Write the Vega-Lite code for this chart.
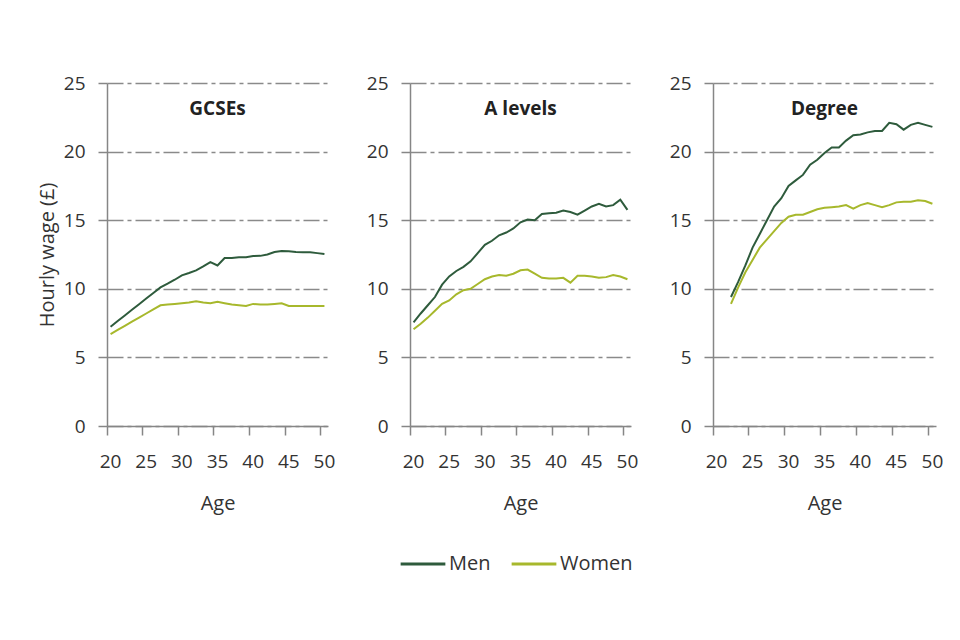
{
 "$schema": "https://vega.github.io/schema/vega-lite/v6.json",
 "background": "white",
 "padding": {"left": 37, "top": 74, "right": 0, "bottom": 0},
 "config": {
  "font": "Open Sans",
  "view": {"stroke": null},
  "axis": {"domainColor": "#868686", "domainWidth": 1.5, "tickColor": "#868686", "tickWidth": 1.5, "tickSize": 9, "labelFontSize": 19, "labelColor": "#333333", "titleFontSize": 20, "titleFontWeight": "normal", "titleColor": "#333333", "gridColor": "#8a8a8a", "gridDash": [16, 4, 4, 4], "gridWidth": 1.3},
  "axisX": {"grid": false, "labelPadding": 17, "titlePadding": 22, "labelAngle": 0},
  "axisY": {"grid": true, "labelPadding": 13, "titlePadding": 6},
  "legend": {"orient": "none", "legendX": 292, "legendY": 457, "direction": "horizontal", "title": null, "symbolType": "stroke", "symbolStrokeWidth": 3, "symbolSize": 2000, "labelFontSize": 20, "labelColor": "#333333", "labelOffset": 2, "columnPadding": 14},
  "title": {"fontSize": 19, "fontWeight": "bold", "color": "#222222", "offset": -45, "frame": "group", "anchor": "middle"}
 },
 "data": {"values": [
  {"q":"GCSEs","sex":"Men","age":20,"wage":7.24},{"q":"GCSEs","sex":"Men","age":21,"wage":7.65},{"q":"GCSEs","sex":"Men","age":22,"wage":8.06},{"q":"GCSEs","sex":"Men","age":23,"wage":8.47},{"q":"GCSEs","sex":"Men","age":24,"wage":8.88},{"q":"GCSEs","sex":"Men","age":25,"wage":9.29},{"q":"GCSEs","sex":"Men","age":26,"wage":9.7},{"q":"GCSEs","sex":"Men","age":27,"wage":10.1},{"q":"GCSEs","sex":"Men","age":28,"wage":10.37},{"q":"GCSEs","sex":"Men","age":29,"wage":10.66},{"q":"GCSEs","sex":"Men","age":30,"wage":10.98},{"q":"GCSEs","sex":"Men","age":31,"wage":11.15},{"q":"GCSEs","sex":"Men","age":32,"wage":11.34},{"q":"GCSEs","sex":"Men","age":33,"wage":11.63},{"q":"GCSEs","sex":"Men","age":34,"wage":11.95},{"q":"GCSEs","sex":"Men","age":35,"wage":11.7},{"q":"GCSEs","sex":"Men","age":36,"wage":12.24},{"q":"GCSEs","sex":"Men","age":37,"wage":12.24},{"q":"GCSEs","sex":"Men","age":38,"wage":12.3},{"q":"GCSEs","sex":"Men","age":39,"wage":12.3},{"q":"GCSEs","sex":"Men","age":40,"wage":12.39},{"q":"GCSEs","sex":"Men","age":41,"wage":12.4},{"q":"GCSEs","sex":"Men","age":42,"wage":12.5},{"q":"GCSEs","sex":"Men","age":43,"wage":12.68},{"q":"GCSEs","sex":"Men","age":44,"wage":12.75},{"q":"GCSEs","sex":"Men","age":45,"wage":12.73},{"q":"GCSEs","sex":"Men","age":46,"wage":12.68},{"q":"GCSEs","sex":"Men","age":47,"wage":12.66},{"q":"GCSEs","sex":"Men","age":48,"wage":12.66},{"q":"GCSEs","sex":"Men","age":49,"wage":12.6},{"q":"GCSEs","sex":"Men","age":50,"wage":12.54},
  {"q":"GCSEs","sex":"Women","age":20,"wage":6.7},{"q":"GCSEs","sex":"Women","age":21,"wage":7.0},{"q":"GCSEs","sex":"Women","age":22,"wage":7.3},{"q":"GCSEs","sex":"Women","age":23,"wage":7.6},{"q":"GCSEs","sex":"Women","age":24,"wage":7.9},{"q":"GCSEs","sex":"Women","age":25,"wage":8.2},{"q":"GCSEs","sex":"Women","age":26,"wage":8.5},{"q":"GCSEs","sex":"Women","age":27,"wage":8.8},{"q":"GCSEs","sex":"Women","age":28,"wage":8.85},{"q":"GCSEs","sex":"Women","age":29,"wage":8.9},{"q":"GCSEs","sex":"Women","age":30,"wage":8.95},{"q":"GCSEs","sex":"Women","age":31,"wage":9.0},{"q":"GCSEs","sex":"Women","age":32,"wage":9.1},{"q":"GCSEs","sex":"Women","age":33,"wage":9.0},{"q":"GCSEs","sex":"Women","age":34,"wage":8.95},{"q":"GCSEs","sex":"Women","age":35,"wage":9.05},{"q":"GCSEs","sex":"Women","age":36,"wage":8.95},{"q":"GCSEs","sex":"Women","age":37,"wage":8.85},{"q":"GCSEs","sex":"Women","age":38,"wage":8.8},{"q":"GCSEs","sex":"Women","age":39,"wage":8.75},{"q":"GCSEs","sex":"Women","age":40,"wage":8.9},{"q":"GCSEs","sex":"Women","age":41,"wage":8.85},{"q":"GCSEs","sex":"Women","age":42,"wage":8.85},{"q":"GCSEs","sex":"Women","age":43,"wage":8.9},{"q":"GCSEs","sex":"Women","age":44,"wage":8.95},{"q":"GCSEs","sex":"Women","age":45,"wage":8.75},{"q":"GCSEs","sex":"Women","age":46,"wage":8.75},{"q":"GCSEs","sex":"Women","age":47,"wage":8.75},{"q":"GCSEs","sex":"Women","age":48,"wage":8.75},{"q":"GCSEs","sex":"Women","age":49,"wage":8.75},{"q":"GCSEs","sex":"Women","age":50,"wage":8.75},
  {"q":"A levels","sex":"Men","age":20,"wage":7.55},{"q":"A levels","sex":"Men","age":21,"wage":8.2},{"q":"A levels","sex":"Men","age":22,"wage":8.8},{"q":"A levels","sex":"Men","age":23,"wage":9.4},{"q":"A levels","sex":"Men","age":24,"wage":10.3},{"q":"A levels","sex":"Men","age":25,"wage":10.9},{"q":"A levels","sex":"Men","age":26,"wage":11.3},{"q":"A levels","sex":"Men","age":27,"wage":11.6},{"q":"A levels","sex":"Men","age":28,"wage":12.0},{"q":"A levels","sex":"Men","age":29,"wage":12.6},{"q":"A levels","sex":"Men","age":30,"wage":13.2},{"q":"A levels","sex":"Men","age":31,"wage":13.5},{"q":"A levels","sex":"Men","age":32,"wage":13.9},{"q":"A levels","sex":"Men","age":33,"wage":14.1},{"q":"A levels","sex":"Men","age":34,"wage":14.4},{"q":"A levels","sex":"Men","age":35,"wage":14.85},{"q":"A levels","sex":"Men","age":36,"wage":15.05},{"q":"A levels","sex":"Men","age":37,"wage":15.0},{"q":"A levels","sex":"Men","age":38,"wage":15.45},{"q":"A levels","sex":"Men","age":39,"wage":15.5},{"q":"A levels","sex":"Men","age":40,"wage":15.55},{"q":"A levels","sex":"Men","age":41,"wage":15.7},{"q":"A levels","sex":"Men","age":42,"wage":15.6},{"q":"A levels","sex":"Men","age":43,"wage":15.4},{"q":"A levels","sex":"Men","age":44,"wage":15.7},{"q":"A levels","sex":"Men","age":45,"wage":16.0},{"q":"A levels","sex":"Men","age":46,"wage":16.2},{"q":"A levels","sex":"Men","age":47,"wage":16.0},{"q":"A levels","sex":"Men","age":48,"wage":16.1},{"q":"A levels","sex":"Men","age":49,"wage":16.5},{"q":"A levels","sex":"Men","age":50,"wage":15.75},
  {"q":"A levels","sex":"Women","age":20,"wage":7.05},{"q":"A levels","sex":"Women","age":21,"wage":7.45},{"q":"A levels","sex":"Women","age":22,"wage":7.9},{"q":"A levels","sex":"Women","age":23,"wage":8.4},{"q":"A levels","sex":"Women","age":24,"wage":8.9},{"q":"A levels","sex":"Women","age":25,"wage":9.15},{"q":"A levels","sex":"Women","age":26,"wage":9.6},{"q":"A levels","sex":"Women","age":27,"wage":9.9},{"q":"A levels","sex":"Women","age":28,"wage":10.0},{"q":"A levels","sex":"Women","age":29,"wage":10.35},{"q":"A levels","sex":"Women","age":30,"wage":10.7},{"q":"A levels","sex":"Women","age":31,"wage":10.9},{"q":"A levels","sex":"Women","age":32,"wage":11.0},{"q":"A levels","sex":"Women","age":33,"wage":10.95},{"q":"A levels","sex":"Women","age":34,"wage":11.1},{"q":"A levels","sex":"Women","age":35,"wage":11.35},{"q":"A levels","sex":"Women","age":36,"wage":11.4},{"q":"A levels","sex":"Women","age":37,"wage":11.1},{"q":"A levels","sex":"Women","age":38,"wage":10.8},{"q":"A levels","sex":"Women","age":39,"wage":10.75},{"q":"A levels","sex":"Women","age":40,"wage":10.75},{"q":"A levels","sex":"Women","age":41,"wage":10.8},{"q":"A levels","sex":"Women","age":42,"wage":10.45},{"q":"A levels","sex":"Women","age":43,"wage":10.95},{"q":"A levels","sex":"Women","age":44,"wage":10.95},{"q":"A levels","sex":"Women","age":45,"wage":10.9},{"q":"A levels","sex":"Women","age":46,"wage":10.8},{"q":"A levels","sex":"Women","age":47,"wage":10.85},{"q":"A levels","sex":"Women","age":48,"wage":11.0},{"q":"A levels","sex":"Women","age":49,"wage":10.9},{"q":"A levels","sex":"Women","age":50,"wage":10.7},
  {"q":"Degree","sex":"Men","age":22,"wage":9.4},{"q":"Degree","sex":"Men","age":23,"wage":10.5},{"q":"Degree","sex":"Men","age":24,"wage":11.7},{"q":"Degree","sex":"Men","age":25,"wage":13.0},{"q":"Degree","sex":"Men","age":26,"wage":14.0},{"q":"Degree","sex":"Men","age":27,"wage":15.0},{"q":"Degree","sex":"Men","age":28,"wage":16.0},{"q":"Degree","sex":"Men","age":29,"wage":16.6},{"q":"Degree","sex":"Men","age":30,"wage":17.5},{"q":"Degree","sex":"Men","age":31,"wage":17.9},{"q":"Degree","sex":"Men","age":32,"wage":18.3},{"q":"Degree","sex":"Men","age":33,"wage":19.05},{"q":"Degree","sex":"Men","age":34,"wage":19.4},{"q":"Degree","sex":"Men","age":35,"wage":19.9},{"q":"Degree","sex":"Men","age":36,"wage":20.3},{"q":"Degree","sex":"Men","age":37,"wage":20.3},{"q":"Degree","sex":"Men","age":38,"wage":20.8},{"q":"Degree","sex":"Men","age":39,"wage":21.2},{"q":"Degree","sex":"Men","age":40,"wage":21.25},{"q":"Degree","sex":"Men","age":41,"wage":21.4},{"q":"Degree","sex":"Men","age":42,"wage":21.5},{"q":"Degree","sex":"Men","age":43,"wage":21.5},{"q":"Degree","sex":"Men","age":44,"wage":22.1},{"q":"Degree","sex":"Men","age":45,"wage":22.0},{"q":"Degree","sex":"Men","age":46,"wage":21.6},{"q":"Degree","sex":"Men","age":47,"wage":21.95},{"q":"Degree","sex":"Men","age":48,"wage":22.1},{"q":"Degree","sex":"Men","age":49,"wage":21.95},{"q":"Degree","sex":"Men","age":50,"wage":21.8},
  {"q":"Degree","sex":"Women","age":22,"wage":8.9},{"q":"Degree","sex":"Women","age":23,"wage":10.1},{"q":"Degree","sex":"Women","age":24,"wage":11.2},{"q":"Degree","sex":"Women","age":25,"wage":12.1},{"q":"Degree","sex":"Women","age":26,"wage":13.0},{"q":"Degree","sex":"Women","age":27,"wage":13.6},{"q":"Degree","sex":"Women","age":28,"wage":14.2},{"q":"Degree","sex":"Women","age":29,"wage":14.8},{"q":"Degree","sex":"Women","age":30,"wage":15.25},{"q":"Degree","sex":"Women","age":31,"wage":15.4},{"q":"Degree","sex":"Women","age":32,"wage":15.4},{"q":"Degree","sex":"Women","age":33,"wage":15.6},{"q":"Degree","sex":"Women","age":34,"wage":15.8},{"q":"Degree","sex":"Women","age":35,"wage":15.9},{"q":"Degree","sex":"Women","age":36,"wage":15.95},{"q":"Degree","sex":"Women","age":37,"wage":16.0},{"q":"Degree","sex":"Women","age":38,"wage":16.1},{"q":"Degree","sex":"Women","age":39,"wage":15.85},{"q":"Degree","sex":"Women","age":40,"wage":16.1},{"q":"Degree","sex":"Women","age":41,"wage":16.25},{"q":"Degree","sex":"Women","age":42,"wage":16.1},{"q":"Degree","sex":"Women","age":43,"wage":15.95},{"q":"Degree","sex":"Women","age":44,"wage":16.1},{"q":"Degree","sex":"Women","age":45,"wage":16.3},{"q":"Degree","sex":"Women","age":46,"wage":16.35},{"q":"Degree","sex":"Women","age":47,"wage":16.35},{"q":"Degree","sex":"Women","age":48,"wage":16.45},{"q":"Degree","sex":"Women","age":49,"wage":16.4},{"q":"Degree","sex":"Women","age":50,"wage":16.2}
 ]},
 "spacing": 31,
 "resolve": {"scale": {"color": "shared"}, "legend": {"color": "shared"}},
 "hconcat": [
  {
   "width": 221, "height": 343,
   "title": {"text": "GCSEs"},
   "transform": [{"filter": "datum.q === 'GCSEs'"}],
   "mark": {"type": "line", "strokeWidth": 2},
   "encoding": {
    "x": {"field": "age", "type": "ordinal", "bandPosition": 0.5, "scale": {"type": "band", "domain": [20,21,22,23,24,25,26,27,28,29,30,31,32,33,34,35,36,37,38,39,40,41,42,43,44,45,46,47,48,49,50], "paddingInner": 0, "paddingOuter": 0}, "axis": {"values": [20,25,30,35,40,45,50], "bandPosition": 0, "title": "Age"}},
    "y": {"field": "wage", "type": "quantitative", "scale": {"domain": [0, 25]}, "axis": {"values": [0,5,10,15,20,25], "title": "Hourly wage (£)"}},
    "color": {"field": "sex", "type": "nominal", "scale": {"domain": ["Men", "Women"], "range": ["#2e5b3c", "#a7b82c"]}}
   }
  },
  {
   "width": 221, "height": 343,
   "title": {"text": "A levels"},
   "transform": [{"filter": "datum.q === 'A levels'"}],
   "mark": {"type": "line", "strokeWidth": 2},
   "encoding": {
    "x": {"field": "age", "type": "ordinal", "bandPosition": 0.5, "scale": {"type": "band", "domain": [20,21,22,23,24,25,26,27,28,29,30,31,32,33,34,35,36,37,38,39,40,41,42,43,44,45,46,47,48,49,50], "paddingInner": 0, "paddingOuter": 0}, "axis": {"values": [20,25,30,35,40,45,50], "bandPosition": 0, "title": "Age"}},
    "y": {"field": "wage", "type": "quantitative", "scale": {"domain": [0, 25]}, "axis": {"values": [0,5,10,15,20,25], "title": null}},
    "color": {"field": "sex", "type": "nominal", "scale": {"domain": ["Men", "Women"], "range": ["#2e5b3c", "#a7b82c"]}}
   }
  },
  {
   "width": 223, "height": 343,
   "title": {"text": "Degree"},
   "transform": [{"filter": "datum.q === 'Degree'"}],
   "mark": {"type": "line", "strokeWidth": 2},
   "encoding": {
    "x": {"field": "age", "type": "ordinal", "bandPosition": 0.5, "scale": {"type": "band", "domain": [20,21,22,23,24,25,26,27,28,29,30,31,32,33,34,35,36,37,38,39,40,41,42,43,44,45,46,47,48,49,50], "paddingInner": 0, "paddingOuter": 0}, "axis": {"values": [20,25,30,35,40,45,50], "bandPosition": 0, "title": "Age"}},
    "y": {"field": "wage", "type": "quantitative", "scale": {"domain": [0, 25]}, "axis": {"values": [0,5,10,15,20,25], "title": null}},
    "color": {"field": "sex", "type": "nominal", "scale": {"domain": ["Men", "Women"], "range": ["#2e5b3c", "#a7b82c"]}}
   }
  }
 ]
}
